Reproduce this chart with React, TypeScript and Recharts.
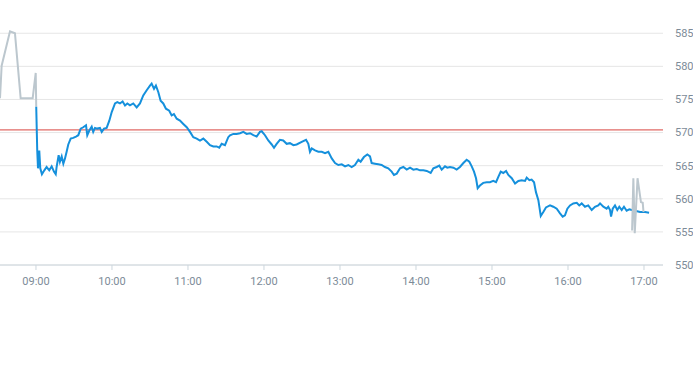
import { LineChart, Line, XAxis, YAxis, CartesianGrid, ReferenceLine } from "recharts";

// times are minutes since midnight
const preTimes = [511.6, 512.9, 519.5, 523.4, 527.9, 537.4, 539.8, 540.2];
const preValues = [575.2, 580.1, 585.3, 585.0, 575.2, 575.2, 579.0, 573.9];

const sessionTimes = [
  540.2, 541.0, 541.6, 542.6, 543.4, 544.7, 546.6, 548.4, 550.5, 552.4, 554.2, 555.6, 556.3, 557.9, 558.9,
  560.3, 561.6, 562.9, 564.2, 565.5, 567.4, 569.4, 571.6, 573.4, 575.3, 577.3, 579.5, 580.5, 582.1, 584.0,
  585.2, 586.6, 588.4, 590.5, 591.9, 593.7, 595.8, 597.9, 599.8, 602.4, 604.2, 606.3, 608.4, 610.3, 612.1,
  614.2, 616.8, 619.5, 622.1, 624.7, 627.4, 630.0, 631.3, 633.2, 634.7, 636.6, 638.4, 640.5, 642.6, 645.2,
  647.1, 648.9, 651.1, 653.7, 656.3, 659.0, 661.6, 664.2, 666.9, 669.5, 672.1, 674.8, 677.4, 680.0, 682.7,
  684.7, 686.6, 689.2, 691.8, 693.2, 695.8, 698.4, 701.1, 703.7, 706.3, 709.0, 711.6, 714.2, 716.8, 718.2,
  720.8, 723.4, 726.1, 727.9, 730.0, 732.6, 735.2, 737.9, 740.5, 743.2, 745.8, 749.8, 753.2, 755.0, 756.3,
  757.7, 760.3, 762.9, 765.6, 768.2, 770.8, 773.5, 776.1, 778.7, 781.4, 784.0, 786.6, 789.2, 791.8, 794.5,
  796.3, 798.9, 801.6, 803.7, 805.0, 807.6, 810.2, 812.9, 815.5, 818.1, 820.8, 822.6, 824.8, 827.4, 830.0,
  832.7, 835.3, 837.9, 840.6, 843.2, 845.8, 848.5, 851.6, 853.7, 856.3, 858.4, 860.3, 862.9, 864.7, 866.8,
  869.5, 872.1, 874.7, 877.4, 880.0, 882.1, 884.0, 885.8, 887.4, 888.7, 890.5, 893.1, 895.8, 898.4, 901.0,
  903.2, 905.0, 906.9, 908.9, 911.1, 912.9, 915.6, 918.2, 920.8, 923.5, 926.1, 927.4, 929.5, 931.3, 933.2,
  934.7, 936.6, 938.5, 940.5, 942.6, 945.8, 948.4, 951.1, 953.7, 955.8, 957.6, 959.5, 961.6, 964.2, 966.9,
  968.9, 970.8, 973.4, 976.0, 978.7, 981.3, 983.9, 985.3, 987.9, 990.5, 991.8, 993.2, 994.0, 995.3, 997.1,
  998.9, 1000.5, 1002.4, 1004.2, 1006.3, 1008.4, 1010.3, 1012.9, 1016.9, 1020.8, 1024.0,
];
const sessionValues = [
  573.9, 567.3, 564.6, 567.3, 564.6, 563.7, 564.3, 564.8, 564.3, 564.9, 564.1, 563.7, 564.8, 566.6, 565.6,
  566.4, 565.3, 566.1, 567.1, 568.2, 569.1, 569.2, 569.4, 569.6, 570.6, 570.8, 571.1, 569.6, 570.3, 570.9,
  570.1, 570.7, 570.6, 570.7, 570.1, 570.6, 570.7, 571.8, 573.1, 574.4, 574.6, 574.4, 574.7, 574.1, 574.4,
  574.1, 574.4, 573.8, 574.4, 575.6, 576.4, 577.1, 577.4, 576.6, 577.1, 576.1, 574.8, 574.4, 573.6, 573.3,
  572.6, 572.8, 572.1, 571.8, 571.3, 570.8, 570.1, 569.3, 569.1, 568.8, 569.1, 568.6, 568.1, 567.9, 567.9,
  567.7, 568.3, 568.1, 569.3, 569.6, 569.8, 569.8, 569.9, 570.1, 569.8, 569.9, 569.6, 569.4, 570.1, 570.2,
  569.6, 568.8, 568.2, 567.7, 568.3, 568.9, 568.8, 568.3, 568.4, 568.1, 568.2, 568.6, 568.9, 568.3, 567.1,
  567.6, 567.3, 567.1, 567.1, 566.9, 567.1, 566.1, 565.4, 565.1, 565.2, 564.9, 565.1, 564.8, 565.1, 565.9,
  565.6, 566.3, 566.7, 566.4, 565.4, 565.3, 565.2, 565.1, 564.8, 564.6, 564.1, 563.6, 563.8, 564.6, 564.8,
  564.4, 564.7, 564.4, 564.5, 564.3, 564.3, 564.2, 563.9, 564.6, 564.8, 565.0, 564.4, 564.9, 564.7, 564.8,
  564.7, 564.4, 564.8, 565.4, 565.9, 565.6, 564.9, 564.1, 563.1, 561.6, 562.0, 562.4, 562.5, 562.5, 562.7,
  562.5, 563.3, 564.1, 563.9, 564.2, 563.6, 563.1, 562.3, 562.7, 562.8, 562.7, 563.2, 562.8, 562.9, 562.5,
  561.0, 559.8, 557.4, 558.0, 558.7, 559.0, 558.8, 558.5, 557.8, 557.3, 557.5, 558.5, 559.0, 559.3, 559.4,
  559.0, 559.3, 558.8, 559.0, 558.3, 558.8, 559.0, 559.3, 558.8, 558.5, 558.8, 558.3, 557.3, 558.5, 559.0,
  558.3, 558.8, 558.3, 558.8, 558.2, 558.4, 558.3, 558.2, 558.0, 558.0, 557.9,
];

const postTimes = [1010.6, 1011.6, 1012.7, 1014.9, 1017.6, 1019.0, 1019.6];
const postValues = [555.2, 563.1, 554.8, 563.1, 559.5, 559.4, 558.0];

const previousClose = 570.4;
const xTicks = [540, 600, 660, 720, 780, 840, 900, 960, 1020];
const yTicks = [550, 555, 560, 565, 570, 575, 580, 585];

const toPoints = (times: number[], values: number[]) => times.map((t, i) => ({ t, v: values[i] }));
const fmtTime = (m: number) => {
  const h = Math.floor(m / 60);
  const mm = Math.round(m % 60);
  return `${String(h).padStart(2, "0")}:${String(mm).padStart(2, "0")}`;
};

const tickStyle = { fill: "#7d8b98", fontSize: 11, fontFamily: "Roboto, sans-serif" };

export default function App() {
  return (
    <div style={{ position: "absolute", left: 0, top: 0, width: 693, height: 365, background: "#fff" }}>
      <LineChart width={693} height={365} margin={{ top: 20, right: 0, bottom: 70, left: 0 }}>
        <CartesianGrid vertical={false} stroke="#e6e6e6" horizontalValues={yTicks} />
        <XAxis
          type="number"
          dataKey="t"
          domain={[511.6, 1035]}
          ticks={xTicks}
          tickFormatter={fmtTime}
          allowDataOverflow
          height={30}
          stroke="#ccd6dd"
          tickSize={5}
          tickMargin={7}
          tick={tickStyle}
        />
        <YAxis
          orientation="right"
          domain={[550, 587]}
          ticks={yTicks}
          allowDataOverflow
          width={30}
          axisLine={false}
          tickLine={false}
          tickSize={0}
          tickMargin={12}
          tick={{ ...tickStyle, textAnchor: "start" }}
        />
        <ReferenceLine y={previousClose} stroke="#d9453f" strokeWidth={1} />
        <Line
          data={toPoints(preTimes, preValues)}
          dataKey="v"
          stroke="#bcc7ce"
          strokeWidth={2}
          dot={false}
          isAnimationActive={false}
        />
        <Line
          data={toPoints(sessionTimes, sessionValues)}
          dataKey="v"
          stroke="#1590dc"
          strokeWidth={2}
          dot={false}
          isAnimationActive={false}
        />
        <Line
          data={toPoints(postTimes, postValues)}
          dataKey="v"
          stroke="#bcc7ce"
          strokeWidth={2}
          dot={false}
          isAnimationActive={false}
        />
      </LineChart>
    </div>
  );
}
